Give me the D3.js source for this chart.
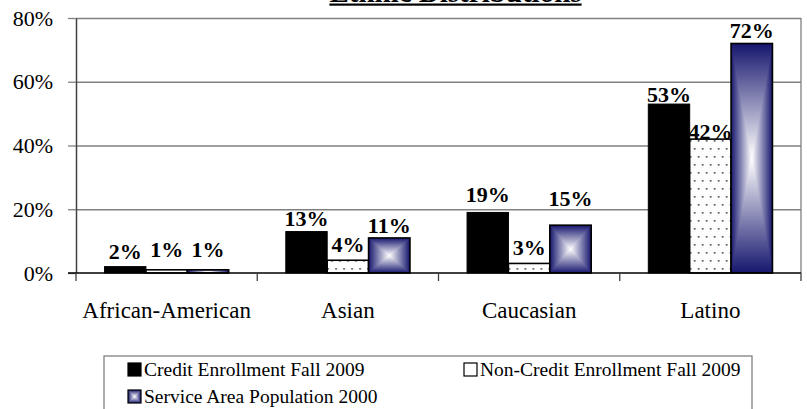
<!DOCTYPE html>
<html>
<head>
<meta charset="utf-8">
<script src="https://cdn.jsdelivr.net/npm/d3@7/dist/d3.min.js"></script>
<style>
  body { margin: 0; background: #fff; }
  svg, svg text { font-family: "Liberation Serif", "Times New Roman", Times, "DejaVu Serif", serif !important; }
</style>
</head>
<body>
<div class="chart"></div>
<script>
const categories = ['African-American', 'Asian', 'Caucasian', 'Latino'];
const seriesNames = ['Credit Enrollment Fall 2009', 'Non-Credit Enrollment Fall 2009', 'Service Area Population 2000'];
const creditValues = [0.02, 0.13, 0.19, 0.53];
const nonCreditValues = [0.01, 0.04, 0.03, 0.42];
const serviceAreaValues = [0.01, 0.11, 0.15, 0.72];
const yTicks = [0, 0.2, 0.4, 0.6, 0.8];
const chartTitle = 'Ethnic Distributions';

function displayChart() {
  const w = 807;
  const h = 409;
  const plot = { left: 76, right: 801, top: 18, bottom: 273 };
  const navy = '#16166e';
  const serif = '"Liberation Serif", "Times New Roman", Times, "DejaVu Serif", serif';

  const values = [creditValues, nonCreditValues, serviceAreaValues];
  const data = categories.map((c, i) => ({
    category: c,
    bars: seriesNames.map((s, j) => ({ series: s, idx: j, value: values[j][i], category: c }))
  }));

  // gap between bar top and its label baseline, as placed in the original
  const labelGap = [
    [8, 6, 10, 2.5],
    [13, 8, 8, 0],
    [13, 5, 19, 6]
  ];

  const x0 = d3.scaleBand()
    .domain(categories)
    .range([plot.left, plot.right])
    .paddingInner(0)
    .paddingOuter(0);
  const x1 = d3.scaleBand()
    .domain(seriesNames)
    .range([0, x0.bandwidth()])
    .paddingInner(0)
    .paddingOuter(0.69);
  const y = d3.scaleLinear()
    .domain([0, 0.8])
    .range([plot.bottom, plot.top]);

  const svg = d3.select('.chart')
    .append('svg')
    .attr('width', w)
    .attr('height', h)
    .attr('font-family', serif);

  const defs = svg.append('defs');
  const pattern = defs.append('pattern')
    .attr('id', 'dots')
    .attr('patternUnits', 'userSpaceOnUse')
    .attr('width', 8)
    .attr('height', 16);
  pattern.append('rect').attr('width', 8).attr('height', 16).attr('fill', '#fff');
  pattern.append('rect').attr('x', 2).attr('y', 4).attr('width', 1.7).attr('height', 1.7).attr('fill', '#555');
  pattern.append('rect').attr('x', 6).attr('y', 12).attr('width', 1.7).attr('height', 1.7).attr('fill', '#555');

  function addGrad(id, x1v, y1v, x2v, y2v, stops) {
    const g = defs.append('linearGradient')
      .attr('id', id)
      .attr('x1', x1v).attr('y1', y1v).attr('x2', x2v).attr('y2', y2v);
    stops.forEach((s) => g.append('stop').attr('offset', s[0]).attr('stop-color', s[1]));
  }
  addGrad('gH', 0, 0, 1, 0, [[0, navy], [0.5, '#fff'], [1, navy]]);
  addGrad('gTop', 0, 0, 0, 1, [[0, navy], [1, '#fff']]);
  addGrad('gBot', 0, 0, 0, 1, [[0, '#fff'], [1, navy]]);

  // rectangular "from centre" gradient: horizontal base + top/bottom triangles
  function centerGradient(g, bx, by, bw, bh) {
    if (bh <= 0) return;
    const cx = bx + bw / 2;
    const cy = by + bh / 2;
    g.append('rect').attr('x', bx).attr('y', by).attr('width', bw).attr('height', bh).attr('fill', 'url(#gH)');
    g.append('path').attr('d', `M${bx},${by}L${bx + bw},${by}L${cx},${cy}Z`).attr('fill', 'url(#gTop)');
    g.append('path').attr('d', `M${bx},${by + bh}L${bx + bw},${by + bh}L${cx},${cy}Z`).attr('fill', 'url(#gBot)');
  }

  // gridlines
  svg.append('g')
    .attr('class', 'grid')
    .attr('transform', `translate(${plot.left}, 0)`)
    .call(d3.axisLeft(y).tickValues(yTicks.slice(1)).tickSize(-(plot.right - plot.left)).tickFormat(''))
    .call((g) => g.select('.domain').remove())
    .call((g) => g.selectAll('line').attr('stroke', '#808080').attr('stroke-width', 1.3));

  // right border
  svg.append('line')
    .attr('x1', plot.right).attr('x2', plot.right)
    .attr('y1', plot.top).attr('y2', plot.bottom)
    .attr('stroke', '#808080').attr('stroke-width', 1.3);

  // y axis
  svg.append('g')
    .attr('class', 'y-axis')
    .attr('transform', `translate(${plot.left}, 0)`)
    .call(d3.axisLeft(y).tickValues(yTicks).tickFormat(d3.format('.0%')).tickSize(8).tickSizeOuter(0).tickPadding(15))
    .attr('font-family', serif)
    .call((g) => g.select('.domain').attr('stroke', '#404040').attr('stroke-width', 1.5))
    .call((g) => g.selectAll('line').attr('stroke', '#808080').attr('stroke-width', 1.3))
    .call((g) => g.selectAll('text').attr('font-size', '22px').attr('fill', '#000'));

  // bars
  const groups = svg.selectAll('.group')
    .data(data)
    .enter()
    .append('g')
    .attr('class', 'group')
    .attr('transform', (d) => `translate(${x0(d.category)}, 0)`);

  groups.each(function (d) {
    const g = d3.select(this);
    d.bars.forEach((b) => {
      const bx = x1(b.series);
      const bw = x1.bandwidth();
      const by = y(b.value);
      const bh = y(0) - y(b.value);
      if (b.idx === 2) centerGradient(g, bx, by, bw, bh);
      g.append('rect')
        .attr('class', 'bar')
        .attr('x', bx)
        .attr('y', by)
        .attr('width', bw)
        .attr('height', bh)
        .attr('fill', b.idx === 0 ? '#000' : b.idx === 1 ? 'url(#dots)' : 'none')
        .attr('stroke', '#000')
        .attr('stroke-width', b.idx === 0 ? 1 : 1.6);
    });
  });

  // x axis line and boundary ticks
  svg.append('line')
    .attr('x1', plot.left - 8).attr('x2', plot.right)
    .attr('y1', plot.bottom).attr('y2', plot.bottom)
    .attr('stroke', '#000').attr('stroke-width', 1.5);
  const bounds = categories.map((c) => x0(c)).concat([plot.right]);
  svg.selectAll('.xtick')
    .data(bounds)
    .enter()
    .append('line')
    .attr('class', 'xtick')
    .attr('x1', (d) => d).attr('x2', (d) => d)
    .attr('y1', plot.bottom).attr('y2', plot.bottom + 8)
    .attr('stroke', '#404040').attr('stroke-width', 1.3);

  svg.append('g')
    .attr('class', 'x-axis')
    .attr('transform', `translate(0, ${plot.bottom})`)
    .call(d3.axisBottom(x0).tickSize(0).tickPadding(29))
    .attr('font-family', serif)
    .call((g) => g.select('.domain').remove())
    .call((g) => g.selectAll('text').attr('font-size', '23px').attr('fill', '#000'));

  // value labels
  groups.each(function (d, i) {
    const g = d3.select(this);
    d.bars.forEach((b) => {
      g.append('text')
        .attr('x', x1(b.series) + x1.bandwidth() / 2)
        .attr('y', y(b.value) - labelGap[b.idx][i])
        .attr('text-anchor', 'middle')
        .attr('font-size', '22px')
        .attr('font-weight', 'bold')
        .text(d3.format('.0%')(b.value));
    });
  });

  // title (top of it runs off the page, as in the original)
  const title = svg.append('text')
    .attr('x', 455.5)
    .attr('y', 2)
    .attr('text-anchor', 'middle')
    .attr('font-size', '29px')
    .attr('font-weight', 'bold')
    .text(chartTitle);
  const tw = title.node().getComputedTextLength();
  svg.append('rect')
    .attr('x', 455.5 - tw / 2)
    .attr('y', 3.5)
    .attr('width', tw)
    .attr('height', 2.2)
    .attr('fill', '#000');

  // legend
  const legend = svg.append('g').attr('class', 'legend');
  legend.append('rect')
    .attr('x', 104).attr('y', 356)
    .attr('width', 648).attr('height', 70)
    .attr('fill', '#fff')
    .attr('stroke', '#808080').attr('stroke-width', 1.3);
  const legendPos = [[128, 363], [464, 363], [128, 390]];
  seriesNames.forEach((s, j) => {
    const [lx, ly] = legendPos[j];
    const item = legend.append('g');
    if (j === 2) centerGradient(item, lx, ly, 13, 13);
    item.append('rect')
      .attr('x', lx).attr('y', ly)
      .attr('width', 13).attr('height', 13)
      .attr('fill', j === 0 ? '#000' : j === 1 ? '#fff' : 'none')
      .attr('stroke', '#000').attr('stroke-width', 1.2);
    item.append('text')
      .attr('x', lx + 16)
      .attr('y', ly + 13)
      .attr('font-size', '19.5px')
      .text(s);
  });
}

displayChart();
</script>
</body>
</html>
